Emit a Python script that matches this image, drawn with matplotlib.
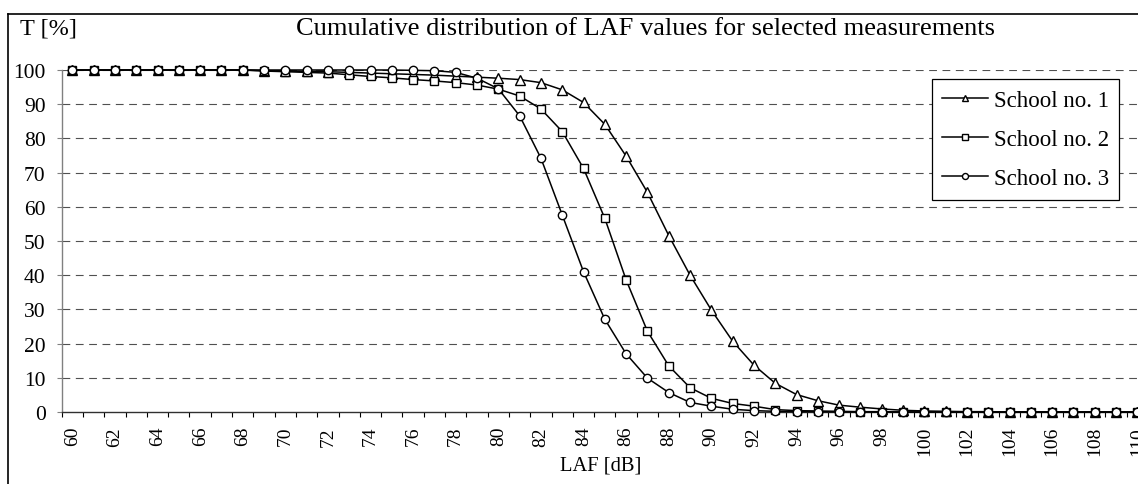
import numpy as np
import matplotlib
matplotlib.use("Agg")
import matplotlib.pyplot as plt
from matplotlib.lines import Line2D

plt.rcParams["font.family"] = ["Liberation Serif", "DejaVu Serif"]

# LAF levels [dB], one category per integer dB
laf = list(range(60, 111))

# cumulative share T [%] of LAF samples at or above each level
school_1 = [100, 100, 100, 100, 100, 100, 100, 100, 100, 99.8,
            99.7, 99.6, 99.5, 99.3, 99.1, 98.9, 98.7, 98.5, 98.2, 97.9,
            97.6, 97.2, 96.3, 94.2, 90.5, 84.1, 74.8, 64.2, 51.6, 40.0,
            29.8, 20.7, 13.7, 8.4, 5.1, 3.3, 2.0, 1.4, 0.9, 0.5,
            0.3, 0.2, 0.1, 0.1, 0, 0, 0, 0, 0, 0, 0]
school_2 = [100, 100, 100, 100, 100, 100, 100, 100, 100, 99.7,
            99.5, 99.3, 99.1, 98.6, 98.1, 97.7, 97.2, 96.8, 96.3, 95.6,
            94.4, 92.4, 88.6, 82.0, 71.2, 56.6, 38.6, 23.6, 13.5, 7.1,
            4.0, 2.5, 1.7, 0.7, 0.4, 0.3, 0.2, 0.1, 0.1, 0,
            0, 0, 0, 0, 0, 0, 0, 0, 0, 0, 0]
school_3 = [100, 100, 100, 100, 100, 100, 100, 100, 100, 100,
            100, 100, 100, 100, 100, 100, 99.9, 99.8, 99.3, 97.6,
            94.5, 86.6, 74.2, 57.6, 41.0, 27.1, 17.0, 9.9, 5.7, 2.8,
            1.7, 0.8, 0.4, 0.2, 0.1, 0.1, 0, 0, 0, 0,
            0, 0, 0, 0, 0, 0, 0, 0, 0, 0, 0]

series_names = ["School no. 1", "School no. 2", "School no. 3"]
markers = ["^", "s", "o"]
y_ticks = list(range(0, 101, 10))
x_label_ticks = list(range(60, 111, 2))

W, H = 1138, 485
fig = plt.figure(figsize=(W / 100, H / 100), dpi=100)

# chart-area frame (open towards right and bottom)
fig.add_artist(Line2D([8 / W, 8 / W], [0, 1 - 15 / H], transform=fig.transFigure,
                      color="black", lw=1.2))
fig.add_artist(Line2D([8 / W, 1.0], [1 - 15 / H, 1 - 15 / H], transform=fig.transFigure,
                      color="black", lw=1.2))

left_px, right_px, top_px, bottom_px = 61.7, 1148, 71, 413
ax = fig.add_axes([left_px / W, 1 - bottom_px / H,
                   (right_px - left_px) / W, (bottom_px - top_px) / H])

for vals, name, mk in zip([school_1, school_2, school_3], series_names, markers):
    ax.plot(laf, vals, color="black", lw=1.1, marker=mk, ms=6.8 if mk == "^" else 6.0,
            mfc="white", mec="black", mew=1.0, label=name, zorder=3, clip_on=False)

ax.set_xlim(59.5, 110.5)
ax.set_ylim(0, 100)

# horizontal dashed grid
for yv in y_ticks[1:]:
    ax.axhline(yv, color="#505050", lw=0.8, ls=(0, (7, 5)), zorder=1)

# category boundaries carry the tick marks, labels sit on even categories
ax.set_xticks(np.arange(59.5, 111, 1))
ax.set_xticklabels([])
ax.set_xticks(x_label_ticks, minor=True)
ax.set_xticklabels([str(v) for v in x_label_ticks], minor=True, rotation=90,
                   fontsize=14, va="top")
ax.tick_params(axis="x", which="major", direction="out", length=3.6, width=0.8,
               color="black")
ax.tick_params(axis="x", which="minor", length=0, pad=10)

ax.set_yticks(y_ticks)
ax.set_yticklabels([str(v) for v in y_ticks], fontsize=15.5)
ax.tick_params(axis="y", direction="out", length=3.6, width=0.8, color="#808080", pad=8)

for s in ["top", "right"]:
    ax.spines[s].set_visible(False)
ax.spines["left"].set_color("#808080")
ax.spines["left"].set_linewidth(1.0)
ax.spines["bottom"].set_color("#303030")
ax.spines["bottom"].set_linewidth(1.0)

fig.text(20 / W, 1 - 29 / H, "T [%]", fontsize=17.5, ha="left", va="center")
fig.text(645 / W, 1 - 29 / H, "Cumulative distribution of LAF values for selected measurements",
         fontsize=19, ha="center", va="center")
fig.text(601 / W, 1 - 466 / H, "LAF [dB]", fontsize=14.8, ha="center", va="center")

# legend box
lx0 = (926.7 - left_px) / (right_px - left_px)
lx1 = (1124 - left_px) / (right_px - left_px)
ly0 = (bottom_px - 204) / (bottom_px - top_px)
ly1 = (bottom_px - 77) / (bottom_px - top_px)
leg = ax.legend(loc="center", bbox_to_anchor=(lx0, ly0, lx1 - lx0, ly1 - ly0),
                fontsize=16.5, frameon=True, fancybox=False, shadow=False,
                handlelength=2.0, handletextpad=0.25, labelspacing=0.8,
                markerscale=0.72, borderpad=0.45, borderaxespad=0)
leg.get_frame().set_edgecolor("black")
leg.get_frame().set_linewidth(0.9)
leg.get_frame().set_facecolor("white")
leg.get_frame().set_alpha(1.0)
leg.set_zorder(5)

fig.savefig("out.png", dpi=100)
